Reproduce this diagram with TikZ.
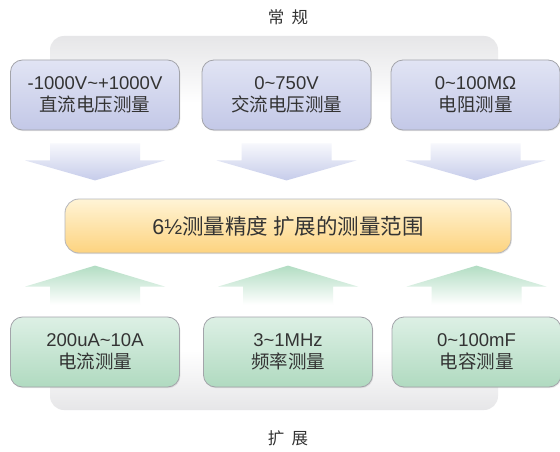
\documentclass[tikz,border=0pt]{standalone}
\usepackage{fontspec}
\setmainfont{Liberation Sans}
\newfontfamily\cjk{Noto Sans CJK SC}
\usetikzlibrary{shadows,calc}
\definecolor{txt}{HTML}{333333}
\definecolor{pgray}{HTML}{E6E6E8}
\definecolor{bordergray}{HTML}{A3A4AA}
\definecolor{lavtop}{HTML}{E1E4F4}
\definecolor{lavbot}{HTML}{C3C8E7}
\definecolor{grntop}{HTML}{DDF0E5}
\definecolor{grnbot}{HTML}{B0DAC0}
\definecolor{yeltop}{HTML}{FFF4D6}
\definecolor{yelbot}{HTML}{FDD37F}
\definecolor{darrowc}{HTML}{C6CCEA}
\definecolor{uarrowc}{HTML}{B2DDC3}
\pgfdeclareverticalshading{panelshade}{100bp}{color(0bp)=(pgray); color(25bp)=(pgray); color(33bp)=(white); color(66bp)=(white); color(75bp)=(pgray); color(100bp)=(pgray)}
\tikzset{
  boxbase/.style={rectangle, rounded corners=12pt, draw=bordergray, line width=0.8pt,
    minimum width=169pt, minimum height=70pt, align=center, text=txt,
    font=\fontsize{18.5}{22.5}\selectfont,
    drop shadow={opacity=0.18, shadow xshift=0.8pt, shadow yshift=-1.2pt}},
  topbox/.style={boxbase, top color=lavtop, bottom color=lavbot},
  botbox/.style={boxbase, top color=grntop, bottom color=grnbot},
  midbox/.style={rectangle, rounded corners=14pt, draw=bordergray!80, line width=0.8pt,
    minimum width=446pt, minimum height=54pt, align=center, text=txt,
    top color=yeltop, bottom color=yelbot,
    font=\fontsize{21.5}{24}\selectfont,
    drop shadow={opacity=0.18, shadow xshift=0.8pt, shadow yshift=-1.2pt}},
  lbl/.style={text=txt, font=\fontsize{16.5}{18}\selectfont\cjk},
  darrow/.style={top color=white!85!darrowc, middle color=darrowc!90, bottom color=darrowc},
  uarrow/.style={top color=uarrowc, middle color=uarrowc!75, bottom color=white},
}
\begin{document}
\begin{tikzpicture}[x=1pt,y=-1pt]
\useasboundingbox (0,0) rectangle (560,452);
\fill[white] (0,0) rectangle (560,452);
% background panel
\path[shade, shading=panelshade, rounded corners=14pt] (50,36) rectangle (498,410);

\node[lbl] (top) at (288,17) {常\hspace{0.45em}规};
\node[lbl] (bot) at (288,438) {扩\hspace{0.45em}展};

% top boxes
\node[topbox] (t1) at (95,95) {-1000V\textasciitilde+1000V\\{\cjk 直流电压测量}};
\node[topbox] (t2) at (286.5,95) {0\textasciitilde750V\\{\cjk 交流电压测量}};
\node[topbox] (t3) at (475.5,95) {0\textasciitilde100MΩ\\{\cjk 电阻测量}};

% middle box
\node[midbox] (m) at (288,226) {6½{\cjk 测量精度 扩展的测量范围}};

% bottom boxes
\node[botbox] (b1) at (95,352) {200uA\textasciitilde10A\\{\cjk 电流测量}};
\node[botbox] (b2) at (288,352) {3\textasciitilde1MHz\\{\cjk 频率测量}};
\node[botbox] (b3) at (476.5,352) {0\textasciitilde100mF\\{\cjk 电容测量}};

% down arrows
\foreach \n in {t1,t2,t3}{
  \path[darrow, shift={(\n.south)}] (-45,13) -- (45,13) -- (45,30) -- (70,30) -- (0,50) -- (-70,30) -- (-45,30) -- cycle;
}
% up arrows
\foreach \n in {b1,b2,b3}{
  \path[uarrow, shift={(\n.north)}] (-45,-12) -- (45,-12) -- (45,-30) -- (70,-30) -- (0,-51) -- (-70,-30) -- (-45,-30) -- cycle;
}
\end{tikzpicture}
\end{document}
